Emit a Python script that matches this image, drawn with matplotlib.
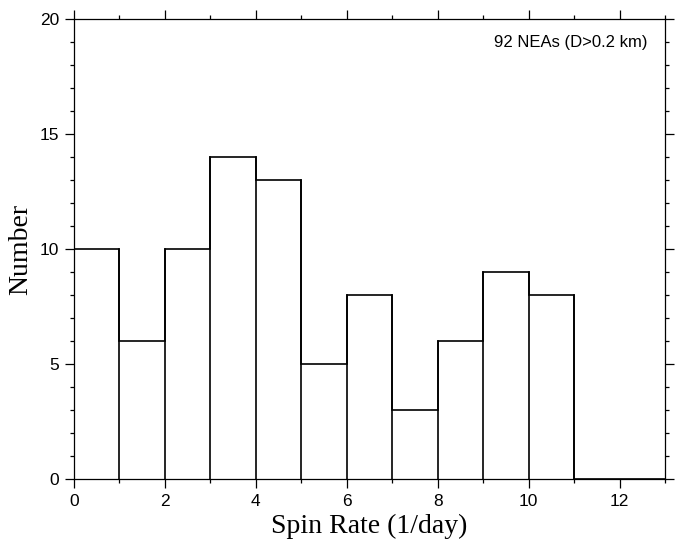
import matplotlib
matplotlib.use('Agg')
import matplotlib.pyplot as plt
from matplotlib.ticker import MultipleLocator

# histogram of spin rates, bins of width 1 day^-1
bin_edges = [0, 1, 2, 3, 4, 5, 6, 7, 8, 9, 10, 11, 12, 13]
counts = [10, 6, 10, 14, 13, 5, 8, 3, 6, 9, 8, 0, 0]
label_text = '92 NEAs (D>0.2 km)'

fig = plt.figure(figsize=(6.75, 5.47), dpi=100)
ax = fig.add_axes([0.1096, 0.1243, 0.8756, 0.841])

ax.stairs(counts, bin_edges, color='black', linewidth=1.2, fill=False,
          baseline=0)
# vertical edges between bins
for i in range(len(counts) - 1):
    h = max(counts[i], counts[i + 1])
    ax.plot([bin_edges[i + 1]] * 2, [0, h], color='black', lw=1.2)

ax.set_xlim(0, 13)
ax.set_ylim(0, 20)
ax.xaxis.set_major_locator(MultipleLocator(2))
ax.xaxis.set_minor_locator(MultipleLocator(1))
ax.yaxis.set_major_locator(MultipleLocator(5))
ax.yaxis.set_minor_locator(MultipleLocator(1))
ax.tick_params(which='both', direction='out', top=True, right=True,
               labeltop=False, labelright=False, width=0.9, color='black')
ax.tick_params(which='major', length=6.5, pad=4)
ax.tick_params(which='minor', length=3)
for s in ax.spines.values():
    s.set_linewidth(0.9)

for lab in ax.get_xticklabels() + ax.get_yticklabels():
    lab.set_family('Liberation Sans')
    lab.set_fontsize(12.5)

ax.set_xlabel('Spin Rate (1/day)', family='Liberation Serif', fontsize=20,
              labelpad=4)
ax.set_ylabel('Number', family='Liberation Serif', fontsize=20, labelpad=5)

ax.text(0.97, 0.965, label_text, transform=ax.transAxes, ha='right',
        va='top', family='Liberation Sans', fontsize=12)

fig.savefig('out.png', dpi=100)
